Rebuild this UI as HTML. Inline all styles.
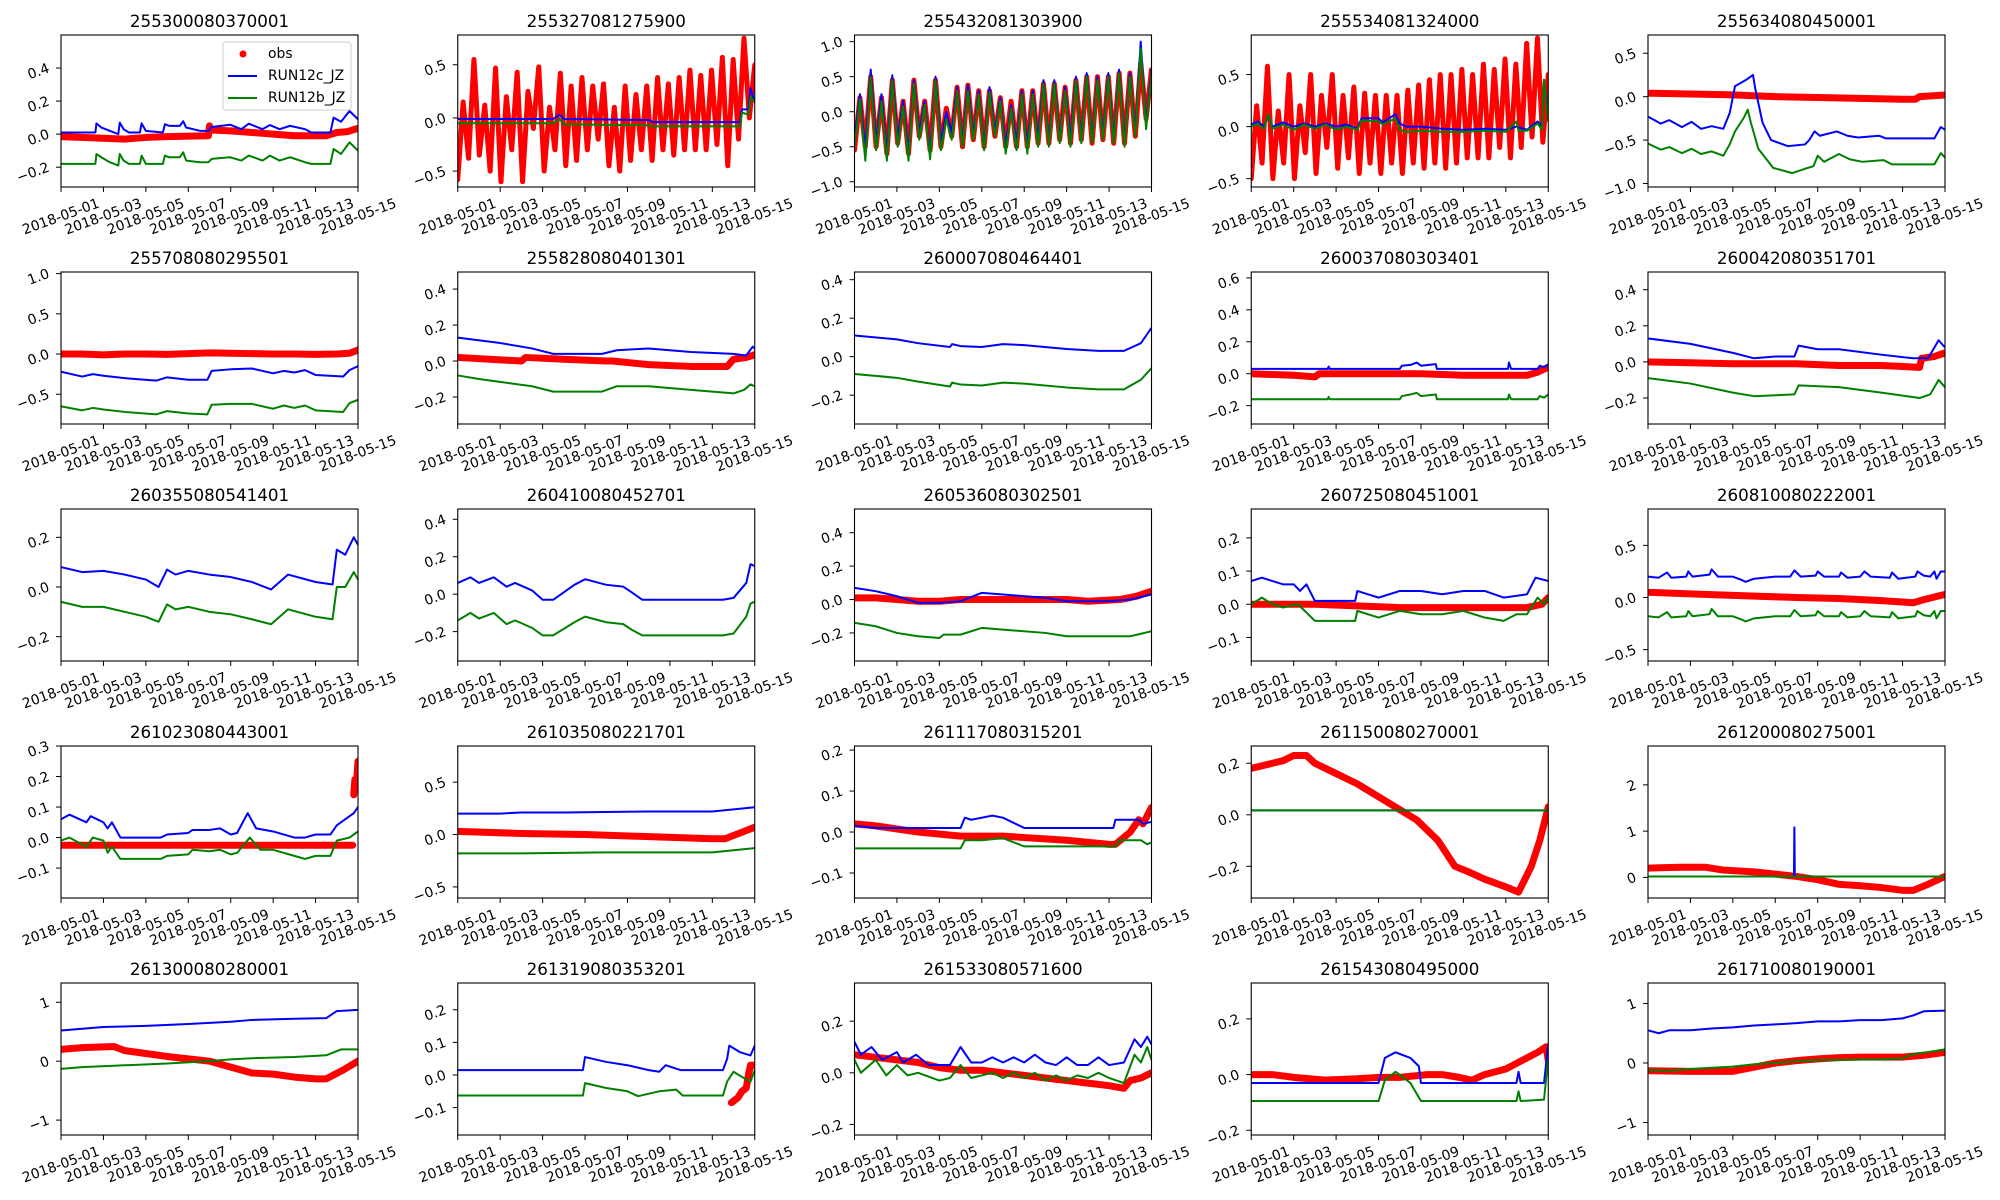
<!DOCTYPE html>
<html>
<head>
<meta charset="utf-8">
<style>
html,body{margin:0;padding:0;background:#fff;}
svg{display:block;font-family:"DejaVu Sans","Liberation Sans",sans-serif;}
</style>
</head>
<body>
<svg id="fig" width="2000" height="1200" viewBox="0 0 2000 1200" xmlns="http://www.w3.org/2000/svg"></svg>
<script>
// ---------- shared x axis ----------
const xTickDays = [0,2,4,6,8,10,12,14];
const xTickLabels = ['2018-05-01','2018-05-03','2018-05-05','2018-05-07','2018-05-09','2018-05-11','2018-05-13','2018-05-15'];

// ---------- subplot titles ----------
const titles = ['255300080370001','255327081275900','255432081303900','255534081324000','255634080450001',
'255708080295501','255828080401301','260007080464401','260037080303401','260042080351701',
'260355080541401','260410080452701','260536080302501','260725080451001','260810080222001',
'261023080443001','261035080221701','261117080315201','261150080270001','261200080275001',
'261300080280001','261319080353201','261533080571600','261543080495000','261710080190001'];

// ---------- y limits and ticks ----------
const yLims = [[-0.32,0.6],[-0.65,0.78],[-1.075,1.095],[-0.58,0.88],[-1.04,0.71],
[-0.87,1.02],[-0.35,0.495],[-0.35,0.44],[-0.315,0.637],[-0.344,0.498],
[-0.298,0.314],[-0.357,0.455],[-0.368,0.542],[-0.171,0.287],[-0.609,0.849],
[-0.198,0.3],[-0.606,0.845],[-0.161,0.21],[-0.323,0.267],[-0.446,2.84],
[-1.253,1.327],[-0.184,0.282],[-0.241,0.348],[-0.217,0.329],[-1.21,1.345]];
const yTicks = [[-0.2,0,0.2,0.4],[-0.5,0,0.5],[-1,-0.5,0,0.5,1],[-0.5,0,0.5],[-1,-0.5,0,0.5],
[-0.5,0,0.5,1],[-0.2,0,0.2,0.4],[-0.2,0,0.2,0.4],[-0.2,0,0.2,0.4,0.6],[-0.2,0,0.2,0.4],
[-0.2,0,0.2],[-0.2,0,0.2,0.4],[-0.2,0,0.2,0.4],[-0.1,0,0.1,0.2],[-0.5,0,0.5],
[-0.1,0,0.1,0.2,0.3],[-0.5,0,0.5],[-0.1,0,0.1,0.2],[-0.2,0,0.2],[0,1,2],
[-1,0,1],[-0.1,0,0.1,0.2],[-0.2,0,0.2],[-0.2,0,0.2],[-1,0,1]];
const yDecimals = [1,1,1,1,1, 1,1,1,1,1, 1,1,1,1,1, 1,1,1,1,0, 0,1,1,1,0];

// ---------- series data ([day, value] pairs, or evenly spaced values over 14 days) ----------
const obs1=[[0,-0.015],[2,-0.025],[3,-0.03],[4,-0.02],[5,-0.015],[6.95,-0.01],[7.0,0.05],[7.05,0.025],[8,0.02],[9,0.01],[10,0.0],[11,-0.01],[12.5,-0.01],[13,0.01],[13.5,0.015],[14,0.035]];
const blue1=[[0,0.01],[1.62,0.01],[1.67,0.065],[1.9,0.04],[2.3,0.02],[2.7,0.0],[2.77,0.07],[2.95,0.03],[3.2,0.01],[3.72,0.01],[3.8,0.065],[4.0,0.02],[4.8,0.01],[4.9,0.06],[5.1,0.05],[5.6,0.05],[5.76,0.078],[5.9,0.04],[6.55,0.02],[6.95,0.02],[7.1,0.043],[7.97,0.057],[8.5,0.03],[8.85,0.063],[9.5,0.03],[9.85,0.055],[10.3,0.03],[10.8,0.05],[11.5,0.03],[11.8,0.01],[12.7,0.01],[12.85,0.1],[13.2,0.075],[13.6,0.14],[14,0.09]];
const green1=[[0,-0.18],[1.62,-0.18],[1.67,-0.12],[1.9,-0.14],[2.3,-0.17],[2.7,-0.19],[2.77,-0.12],[2.95,-0.16],[3.2,-0.18],[3.72,-0.18],[3.8,-0.13],[4.0,-0.18],[4.8,-0.18],[4.9,-0.13],[5.1,-0.14],[5.6,-0.14],[5.76,-0.11],[5.9,-0.16],[6.55,-0.17],[6.95,-0.17],[7.1,-0.15],[7.97,-0.14],[8.5,-0.16],[8.85,-0.13],[9.5,-0.16],[9.85,-0.13],[10.3,-0.16],[10.8,-0.14],[11.5,-0.17],[11.8,-0.18],[12.7,-0.18],[12.85,-0.09],[13.2,-0.12],[13.6,-0.05],[14,-0.1]];

const obs2=[-0.58,0.15,-0.38,0.55,-0.35,0.12,-0.5,0.47,-0.6,0.2,-0.3,0.43,-0.6,0.25,-0.1,0.48,-0.5,0.1,-0.3,0.42,-0.45,0.3,-0.4,0.38,-0.3,0.3,-0.2,0.32,-0.45,0.1,-0.5,0.3,-0.4,0.22,-0.3,0.3,-0.4,0.38,-0.3,0.32,-0.35,0.38,-0.3,0.45,-0.3,0.4,-0.3,0.45,-0.25,0.57,-0.45,0.55,-0.2,0.75,0.0,0.5];
const blue2=[[0,-0.01],[4.5,-0.01],[4.8,0.03],[5,-0.01],[9,-0.02],[9.2,-0.04],[13.3,-0.04],[13.4,0.08],[13.7,0.08],[13.8,0.28],[14,0.15]];
const green2=[[0,-0.05],[4.5,-0.05],[4.8,-0.01],[5,-0.06],[9,-0.07],[9.2,-0.08],[13.3,-0.08],[13.4,0.05],[13.7,0.03],[13.8,0.2],[14,0.15]];

const obs3=[-0.55,0.2,-0.5,0.5,-0.5,0.2,-0.6,0.45,-0.45,0.15,-0.6,0.45,-0.35,0.15,-0.55,0.45,-0.5,0.05,-0.35,0.35,-0.5,0.38,-0.4,0.3,-0.5,0.3,-0.35,0.2,-0.5,0.15,-0.5,0.3,-0.5,0.3,-0.45,0.4,-0.45,0.4,-0.4,0.35,-0.45,0.45,-0.4,0.5,-0.45,0.5,-0.4,0.5,-0.45,0.55,-0.45,0.55,-0.35,0.7,-0.1,0.6];
const blue3=[-0.4,0.25,-0.55,0.6,-0.45,0.25,-0.6,0.52,-0.4,0.15,-0.6,0.45,-0.3,0.15,-0.6,0.5,-0.45,0.0,-0.3,0.35,-0.45,0.38,-0.35,0.3,-0.5,0.35,-0.3,0.2,-0.5,0.1,-0.45,0.3,-0.5,0.3,-0.4,0.45,-0.45,0.45,-0.4,0.35,-0.4,0.5,-0.4,0.55,-0.4,0.5,-0.35,0.55,-0.4,0.6,-0.45,0.55,-0.3,1.0,-0.2,0.6];
const green3=[-0.5,0.18,-0.7,0.5,-0.55,0.15,-0.7,0.45,-0.5,0.08,-0.7,0.4,-0.4,0.1,-0.68,0.45,-0.55,-0.1,-0.4,0.3,-0.5,0.3,-0.4,0.25,-0.55,0.28,-0.35,0.15,-0.6,0.05,-0.55,0.25,-0.6,0.25,-0.5,0.4,-0.5,0.4,-0.45,0.3,-0.5,0.45,-0.45,0.5,-0.45,0.45,-0.4,0.5,-0.45,0.55,-0.5,0.5,-0.35,0.9,-0.25,0.55];

const obs4=[-0.5,0.2,-0.35,0.58,-0.5,0.15,-0.35,0.5,-0.5,0.2,-0.25,0.5,-0.45,0.3,-0.2,0.5,-0.4,0.3,-0.3,0.38,-0.45,0.32,-0.35,0.3,-0.45,0.3,-0.35,0.3,-0.45,0.35,-0.35,0.4,-0.4,0.45,-0.35,0.5,-0.4,0.5,-0.35,0.55,-0.3,0.5,-0.3,0.6,-0.3,0.55,-0.2,0.65,-0.3,0.6,-0.2,0.8,-0.1,0.85,-0.15,0.5];
const blue4=[[0,0.02],[0.3,0.05],[0.6,0.0],[0.8,0.1],[1,0.0],[1.5,0.04],[2,0.0],[2.5,0.03],[3,0.0],[3.5,0.03],[4,0.0],[4.5,0.02],[5,-0.02],[5.2,0.08],[6,0.08],[6.2,0.04],[6.8,0.12],[7,0.03],[7.3,0.0],[8,0.0],[9,-0.02],[10,-0.03],[11,-0.02],[12,-0.03],[12.5,0.0],[13,-0.03],[13.5,0.05],[13.7,0.0],[13.8,0.45],[14,0.1]];
const green4=[[0,0.0],[0.3,0.03],[0.6,-0.02],[0.8,0.12],[1,-0.02],[1.5,0.02],[2,-0.03],[2.5,0.02],[3,-0.02],[3.5,0.02],[4,-0.03],[4.5,0.0],[5,-0.03],[5.2,0.06],[6,0.05],[6.2,0.02],[6.8,0.08],[7,-0.03],[7.3,-0.05],[8,-0.04],[9,-0.05],[10,-0.05],[11,-0.04],[12,-0.05],[12.5,0.05],[12.6,-0.04],[13,-0.04],[13.5,0.03],[13.7,-0.03],[13.8,0.45],[14,0.05]];

const obs5=[[0,0.04],[2,0.03],[4,0.02],[6,0.0],[8,-0.01],[10,-0.02],[12,-0.03],[12.6,-0.03],[12.8,0.0],[14,0.02]];
const blue5=[[0,-0.23],[0.6,-0.31],[1,-0.27],[1.6,-0.35],[2.05,-0.29],[2.5,-0.37],[3.0,-0.34],[3.55,-0.37],[3.85,-0.19],[4.1,0.12],[4.6,0.19],[4.95,0.25],[5.05,0.1],[5.4,-0.3],[5.8,-0.5],[6.6,-0.57],[7.4,-0.55],[7.6,-0.5],[7.85,-0.4],[8.1,-0.45],[8.9,-0.4],[9.4,-0.45],[9.9,-0.47],[10.9,-0.45],[11.2,-0.48],[13.5,-0.48],[13.8,-0.35],[14,-0.38]];
const green5=[[0,-0.54],[0.6,-0.61],[1,-0.58],[1.6,-0.65],[2.05,-0.6],[2.5,-0.66],[3.0,-0.63],[3.55,-0.68],[3.85,-0.55],[4.1,-0.4],[4.5,-0.25],[4.7,-0.15],[4.85,-0.3],[5.2,-0.6],[5.9,-0.82],[6.8,-0.88],[7.4,-0.83],[7.8,-0.8],[8.0,-0.68],[8.3,-0.75],[9.0,-0.66],[9.5,-0.72],[10.1,-0.75],[11.1,-0.73],[11.5,-0.78],[13.5,-0.78],[13.8,-0.65],[14,-0.7]];

const obs6=[[0,0.0],[1,0.0],[2,-0.01],[3,0.0],[4,0.0],[5,-0.005],[6,0.005],[7,0.015],[8,0.01],[9,0.005],[10,0.0],[11,0.0],[12,-0.005],[13,0.0],[13.6,0.01],[14,0.05]];
const blue6=[[0,-0.22],[1,-0.28],[1.5,-0.25],[2,-0.27],[3,-0.3],[4.5,-0.33],[5,-0.29],[6,-0.32],[6.9,-0.32],[7.1,-0.21],[8,-0.19],[9,-0.18],[10,-0.24],[10.5,-0.21],[11,-0.23],[11.5,-0.2],[12,-0.26],[13.3,-0.28],[13.6,-0.2],[14,-0.15]];
const green6=[[0,-0.65],[1,-0.7],[1.5,-0.67],[2,-0.69],[3,-0.72],[4.5,-0.75],[5,-0.71],[6,-0.74],[6.9,-0.75],[7.1,-0.63],[8,-0.62],[9,-0.62],[10,-0.68],[10.5,-0.64],[11,-0.67],[11.5,-0.64],[12,-0.7],[13.3,-0.72],[13.6,-0.61],[14,-0.57]];

const obs7=[[0,0.02],[1.5,0.01],[3,0.0],[3.2,0.02],[5,0.01],[7,0.0],[7.3,0.0],[9,-0.02],[11,-0.03],[12.7,-0.03],[13,0.01],[13.6,0.02],[14,0.035]];
const blue7=[[0,0.13],[2,0.1],[3.5,0.07],[4.5,0.04],[6.8,0.04],[7.5,0.06],[9,0.07],[11,0.05],[13,0.04],[13.6,0.03],[13.9,0.08],[14,0.07]];
const green7=[[0,-0.08],[1,-0.1],[3.5,-0.14],[4.5,-0.17],[6.8,-0.17],[7.5,-0.14],[9,-0.14],[11,-0.16],[13,-0.18],[13.5,-0.16],[13.8,-0.13],[14,-0.14]];

const obs8=[];
const blue8=[[0,0.11],[2,0.09],[3,0.07],[4.5,0.05],[4.6,0.065],[5,0.055],[6,0.05],[7,0.065],[8,0.06],[10,0.04],[11.5,0.03],[12.7,0.03],[13.5,0.07],[14,0.15]];
const green8=[[0,-0.09],[2,-0.11],[3,-0.13],[4.5,-0.155],[4.6,-0.135],[5,-0.145],[6,-0.15],[7,-0.135],[8,-0.14],[10,-0.16],[11.5,-0.17],[12.7,-0.17],[13.5,-0.12],[14,-0.06]];

const obs9=[[0,0.0],[2,-0.01],[3,-0.02],[3.2,0.0],[5,0.0],[8,0.0],[10,-0.01],[13,-0.01],[13.5,0.01],[14,0.04]];
const blue9=[[0,0.03],[3.6,0.03],[3.65,0.045],[3.7,0.03],[7,0.03],[7.1,0.05],[7.5,0.055],[7.8,0.07],[8.0,0.05],[8.7,0.06],[8.75,0.03],[12.1,0.03],[12.15,0.07],[12.25,0.03],[13.5,0.03],[13.6,0.05],[13.8,0.04],[14,0.06]];
const green9=[[0,-0.16],[3.6,-0.16],[3.65,-0.145],[3.7,-0.16],[7,-0.16],[7.1,-0.14],[7.5,-0.13],[7.8,-0.12],[8.0,-0.14],[8.7,-0.13],[8.75,-0.16],[12.1,-0.16],[12.15,-0.13],[12.25,-0.16],[13.5,-0.16],[13.6,-0.14],[13.8,-0.15],[14,-0.13]];

const obs10=[[0,0.0],[2,-0.005],[4,-0.01],[7,-0.01],[9,-0.02],[11,-0.02],[12.8,-0.03],[12.9,0.02],[13.5,0.03],[14,0.05]];
const blue10=[[0,0.13],[2,0.1],[4,0.05],[5,0.02],[6,0.03],[6.9,0.03],[7.1,0.09],[8,0.07],[9,0.07],[11,0.04],[12.5,0.02],[13.2,0.02],[13.7,0.12],[14,0.08]];
const green10=[[0,-0.09],[2,-0.12],[4,-0.17],[5,-0.19],[6.9,-0.18],[7.1,-0.13],[9,-0.14],[11,-0.17],[12.8,-0.2],[13.3,-0.18],[13.7,-0.1],[14,-0.14]];

const obs11=[];
const blue11=[[0,0.08],[1,0.06],[2,0.065],[3,0.05],[4,0.03],[4.6,0.0],[5,0.07],[5.4,0.05],[6,0.065],[7,0.05],[8,0.04],[9,0.02],[9.9,-0.01],[10.7,0.05],[12,0.02],[12.8,0.01],[13,0.15],[13.4,0.13],[13.8,0.2],[14,0.17]];
const green11=[[0,-0.06],[1,-0.08],[2,-0.08],[3,-0.1],[4,-0.12],[4.6,-0.14],[5,-0.07],[5.4,-0.09],[6,-0.08],[7,-0.1],[8,-0.11],[9,-0.13],[9.9,-0.15],[10.7,-0.09],[12,-0.12],[12.8,-0.13],[13,0.0],[13.4,0.0],[13.8,0.06],[14,0.03]];

const obs12=[];
const blue12=[[0,0.06],[0.6,0.09],[1,0.06],[1.7,0.09],[2.3,0.04],[2.7,0.06],[3.5,0.02],[4,-0.03],[4.5,-0.03],[5.5,0.05],[6,0.08],[7,0.05],[7.8,0.04],[8.2,0.01],[8.7,-0.03],[12.5,-0.03],[13,-0.02],[13.6,0.06],[13.8,0.16],[14,0.15]];
const green12=[[0,-0.14],[0.6,-0.1],[1,-0.13],[1.7,-0.1],[2.3,-0.16],[2.7,-0.14],[3.5,-0.18],[4,-0.22],[4.5,-0.22],[5.5,-0.15],[6,-0.12],[7,-0.15],[7.8,-0.16],[8.2,-0.19],[8.7,-0.22],[12.5,-0.22],[13,-0.21],[13.6,-0.12],[13.8,-0.05],[14,-0.04]];

const obs13=[[0,0.01],[1,0.01],[2,0.0],[3,-0.01],[4,-0.01],[5,0.0],[7,0.0],[9,0.0],[10,0.0],[11,-0.01],[12.5,0.0],[13.3,0.02],[14,0.05]];
const blue13=[[0,0.07],[1,0.05],[2,0.02],[3,-0.02],[4,-0.02],[5,-0.01],[6,0.04],[7,0.03],[9,0.01],[10,-0.01],[12,-0.01],[13,0.0],[14,0.03]];
const green13=[[0,-0.14],[1,-0.16],[2,-0.2],[3,-0.22],[4,-0.23],[4.2,-0.21],[5,-0.21],[6,-0.17],[7,-0.18],[9,-0.2],[10,-0.22],[12,-0.22],[13,-0.22],[14,-0.19]];

const obs14=[[0,0.0],[3,0.0],[7,-0.01],[13,-0.01],[13.7,0.0],[14,0.02]];
const blue14=[[0,0.07],[0.5,0.08],[1,0.07],[1.5,0.06],[2,0.06],[2.3,0.04],[2.6,0.06],[3,0.01],[4.9,0.01],[5,0.04],[5.5,0.03],[6,0.02],[7,0.04],[8,0.04],[9,0.03],[10,0.04],[11,0.04],[11.9,0.02],[13,0.03],[13.4,0.08],[14,0.07]];
const green14=[[0,0.0],[0.5,0.02],[1,0.0],[1.5,-0.01],[2.2,0.0],[3,-0.05],[4.9,-0.05],[5,-0.02],[6,-0.04],[7,-0.02],[8,-0.03],[9,-0.03],[10,-0.02],[11,-0.04],[11.9,-0.05],[12.5,-0.03],[13,-0.03],[13.5,0.02],[13.8,0.0],[14,0.02]];

const obs15=[[0,0.05],[2,0.035],[4,0.02],[7,0.0],[9,-0.01],[11,-0.03],[12.5,-0.05],[13,-0.02],[14,0.03]];
const blue15=[[0,0.2],[0.5,0.19],[0.9,0.24],[1.1,0.19],[1.8,0.2],[1.9,0.25],[2.1,0.2],[2.9,0.22],[3.0,0.27],[3.3,0.2],[4.0,0.2],[4.4,0.17],[4.6,0.15],[5,0.18],[6,0.2],[6.7,0.2],[6.9,0.26],[7.2,0.2],[7.9,0.21],[8.0,0.25],[8.3,0.2],[9.0,0.2],[9.1,0.24],[9.4,0.19],[10,0.2],[10.2,0.25],[10.5,0.2],[11.4,0.19],[11.5,0.24],[11.8,0.18],[12.6,0.2],[12.7,0.25],[13.0,0.21],[13.3,0.2],[13.5,0.25],[13.6,0.18],[13.8,0.25],[14,0.25]];
const green15=[[0,-0.18],[0.5,-0.19],[0.9,-0.14],[1.1,-0.19],[1.8,-0.18],[1.9,-0.13],[2.1,-0.18],[2.9,-0.16],[3.0,-0.11],[3.3,-0.18],[4.0,-0.18],[4.4,-0.21],[4.6,-0.23],[5,-0.2],[6,-0.18],[6.7,-0.18],[6.9,-0.12],[7.2,-0.18],[7.9,-0.17],[8.0,-0.13],[8.3,-0.18],[9.0,-0.18],[9.1,-0.14],[9.4,-0.19],[10,-0.18],[10.2,-0.13],[10.5,-0.18],[11.4,-0.19],[11.5,-0.14],[11.8,-0.2],[12.6,-0.18],[12.7,-0.13],[13.0,-0.17],[13.3,-0.18],[13.5,-0.13],[13.6,-0.2],[13.8,-0.13],[14,-0.13]];

const obs16=[[0,-0.025],[13.75,-0.025],[13.75,null],[13.8,0.14],[13.85,0.19],[13.9,0.16],[13.95,0.2],[14,0.25]];
const blue16=[[0,0.06],[0.4,0.075],[1.2,0.05],[1.4,0.07],[2,0.05],[2.2,0.03],[2.4,0.05],[2.8,0.0],[4.7,0.0],[5,0.01],[6,0.015],[6.2,0.025],[7,0.025],[7.5,0.03],[8,0.01],[8.3,0.015],[8.8,0.08],[9.2,0.03],[10,0.02],[11,0.0],[11.5,0.0],[12,0.01],[12.7,0.01],[13,0.04],[13.6,0.07],[13.8,0.08],[14,0.1]];
const green16=[[0,-0.01],[0.4,0.0],[1.2,-0.03],[1.5,0.0],[2,-0.01],[2.2,-0.05],[2.4,-0.03],[2.8,-0.07],[4.7,-0.07],[5,-0.06],[6,-0.055],[6.2,-0.04],[7,-0.045],[7.5,-0.04],[8,-0.055],[8.3,-0.05],[8.9,0.0],[9.4,-0.04],[10,-0.04],[11,-0.06],[11.5,-0.07],[12,-0.06],[12.7,-0.06],[13,-0.01],[13.6,0.0],[14,0.02]];

const obs17=[[0,0.03],[3,0.01],[6,0.0],[9,-0.02],[12,-0.04],[12.6,-0.04],[13.5,0.03],[14,0.07]];
const blue17=[[0,0.2],[2,0.2],[3,0.21],[5,0.21],[9,0.22],[12,0.22],[14,0.26]];
const green17=[[0,-0.18],[2,-0.18],[3,-0.18],[7,-0.17],[12,-0.17],[14,-0.13]];

const obs18=[[0,0.02],[1,0.015],[3,0.0],[5,-0.01],[7,-0.01],[10,-0.02],[12,-0.03],[12.3,-0.03],[13,0.0],[13.4,0.03],[13.6,0.02],[14,0.06]];
const blue18=[[0,0.015],[1,0.01],[5,0.01],[5.2,0.035],[5.5,0.03],[6,0.035],[6.5,0.04],[7,0.035],[8,0.01],[12.2,0.01],[12.3,0.03],[13.4,0.03],[13.6,0.02],[14,0.025]];
const green18=[[0,-0.04],[5,-0.04],[5.2,-0.02],[6,-0.02],[7,-0.015],[8,-0.035],[12.3,-0.035],[12.5,-0.02],[13.5,-0.02],[13.8,-0.03],[14,-0.025]];

const obs19=[[0,0.18],[1,0.2],[1.5,0.21],[2,0.23],[2.6,0.23],[3,0.2],[4,0.16],[5,0.12],[6,0.07],[7,0.02],[7.8,-0.02],[8.8,-0.1],[9.6,-0.2],[10.2,-0.22],[11,-0.25],[12,-0.28],[12.6,-0.3],[13.2,-0.2],[13.6,-0.1],[14,0.03]];
const blue19=[[0,0.017],[14,0.017]];
const green19=[[0,0.017],[14,0.017]];

const obs20=[[0,0.2],[1.5,0.22],[2.7,0.22],[3.5,0.16],[5,0.12],[6,0.07],[7,0.02],[8,-0.05],[9,-0.15],[10,-0.18],[11,-0.22],[12,-0.28],[12.5,-0.28],[13.2,-0.15],[14,0.02]];
const blue20=[[0,0.02],[6.88,0.02],[6.9,1.08],[6.92,0.02],[14,0.02]];
const green20=[[0,0.02],[14,0.02]];

const obs21=[[0,0.2],[1,0.23],[2.5,0.25],[3,0.18],[4,0.13],[5,0.08],[7,0.0],[8,-0.1],[9,-0.2],[10,-0.22],[11,-0.27],[12,-0.3],[12.5,-0.3],[13.3,-0.15],[14,0.0]];
const blue21=[[0,0.52],[1,0.55],[2,0.58],[4,0.6],[6,0.63],[8,0.67],[9,0.7],[11,0.72],[12.5,0.73],[13,0.85],[14,0.87]];
const green21=[[0,-0.13],[1,-0.1],[3,-0.07],[5,-0.04],[7,0.0],[8,0.03],[9,0.05],[11,0.07],[12.5,0.1],[13.2,0.2],[14,0.2]];

const obs22=[[12.9,-0.085],[13.2,-0.07],[13.4,-0.05],[13.6,-0.04],[13.7,0.0],[13.8,0.03],[14,0.03]];
const blue22=[[0,0.015],[5.9,0.015],[6,0.055],[7,0.04],[8,0.03],[9,0.015],[9.5,0.01],[9.8,0.03],[10.5,0.015],[12.5,0.015],[12.7,0.05],[12.8,0.09],[13.3,0.07],[13.8,0.06],[14,0.09]];
const green22=[[0,-0.063],[5.9,-0.063],[6,-0.025],[7,-0.04],[8,-0.05],[8.5,-0.065],[9.5,-0.05],[10.3,-0.045],[10.6,-0.063],[12.5,-0.063],[12.7,-0.02],[13,0.01],[13.5,-0.01],[13.8,-0.02],[14,0.015]];

const obs23=[[0,0.07],[1,0.06],[2,0.05],[3,0.04],[4,0.02],[5,0.01],[6,0.01],[7,0.0],[8,-0.01],[9,-0.02],[10,-0.03],[11,-0.04],[12,-0.05],[12.7,-0.06],[13,-0.03],[13.5,-0.02],[14,0.0]];
const blue23=[[0,0.12],[0.3,0.07],[0.8,0.1],[1.3,0.05],[2,0.08],[2.3,0.04],[2.9,0.07],[3.5,0.03],[4.5,0.03],[5.0,0.1],[5.5,0.04],[6,0.04],[6.5,0.06],[7,0.04],[7.5,0.06],[8,0.04],[8.5,0.07],[9,0.04],[9.5,0.03],[10,0.06],[10.5,0.03],[11,0.03],[11.5,0.06],[12,0.03],[12.7,0.04],[13.2,0.13],[13.5,0.1],[13.8,0.14],[14,0.11]];
const green23=[[0,0.05],[0.3,0.0],[1,0.05],[1.5,-0.01],[2,0.03],[2.5,-0.01],[3,0.0],[4,-0.03],[4.5,-0.02],[5,0.03],[5.5,-0.02],[6,-0.01],[6.5,0.0],[7,-0.02],[7.5,0.0],[8,-0.02],[8.5,0.0],[9,-0.03],[9.5,-0.01],[10,-0.03],[10.5,-0.01],[11,-0.02],[11.5,0.0],[12,-0.02],[12.7,-0.04],[13.2,0.07],[13.5,0.04],[13.8,0.1],[14,0.05]];

const obs24=[[0,0.0],[1,0.0],[2,-0.01],[3.5,-0.02],[5,-0.015],[6,-0.01],[7,-0.01],[8.3,0.0],[9,0.0],[9.8,-0.01],[10.4,-0.02],[11,0.0],[12,0.02],[12.5,0.04],[13,0.06],[13.5,0.08],[13.9,0.1],[14,0.05]];
const blue24=[[0,-0.03],[6,-0.03],[6.3,0.06],[6.8,0.08],[7.5,0.06],[7.9,0.03],[8,-0.03],[12.5,-0.03],[12.6,0.01],[12.7,-0.03],[13.8,-0.03],[14,0.11]];
const green24=[[0,-0.095],[6,-0.095],[6.3,-0.02],[6.8,0.01],[7.5,-0.03],[8,-0.095],[12.5,-0.095],[12.6,-0.06],[12.7,-0.095],[13.8,-0.09],[14,0.06]];

const obs25=[[0,-0.13],[2,-0.14],[4,-0.14],[5,-0.07],[6,0.0],[7,0.04],[8,0.07],[9,0.09],[10,0.1],[11,0.1],[12,0.1],[13,0.13],[14,0.18]];
const blue25=[[0,0.55],[0.5,0.5],[1,0.55],[2,0.55],[3,0.58],[4,0.6],[5,0.63],[6,0.65],[7,0.67],[8,0.7],[9,0.7],[10,0.72],[11,0.72],[12,0.75],[12.5,0.8],[13,0.87],[14,0.88]];
const green25=[[0,-0.12],[1,-0.13],[2,-0.1],[3,-0.08],[4,-0.06],[5,-0.02],[6,0.0],[7,0.03],[8,0.05],[9,0.05],[10,0.06],[11,0.06],[12,0.08],[12.5,0.15],[13.5,0.2],[14,0.23]];

const obsSeries=[obs1,obs2,obs3,obs4,obs5,obs6,obs7,obs8,obs9,obs10,obs11,obs12,obs13,obs14,obs15,obs16,obs17,obs18,obs19,obs20,obs21,obs22,obs23,obs24,obs25];
const blueSeries=[blue1,blue2,blue3,blue4,blue5,blue6,blue7,blue8,blue9,blue10,blue11,blue12,blue13,blue14,blue15,blue16,blue17,blue18,blue19,blue20,blue21,blue22,blue23,blue24,blue25];
const greenSeries=[green1,green2,green3,green4,green5,green6,green7,green8,green9,green10,green11,green12,green13,green14,green15,green16,green17,green18,green19,green20,green21,green22,green23,green24,green25];
const tidalPlots=[1,2,3];

// ---------- rendering ----------
const NS='http://www.w3.org/2000/svg';
const fig=document.getElementById('fig');
function mk(tag, attrs, parent){
  const e=document.createElementNS(NS,tag);
  for(const k in attrs) e.setAttribute(k, attrs[k]);
  parent.appendChild(e);
  return e;
}
function toPairs(arr){
  if(arr.length && typeof arr[0]==='number'){
    return arr.map((v,i)=>[i*14/(arr.length-1), v]);
  }
  return arr;
}
function fmt(v,d){
  let s=Math.abs(v).toFixed(d);
  if(v<0 && Math.abs(v)>1e-9) s='\u2212'+s;
  return s;
}
const AX_W=297, AX_H=152;
const defs=mk('defs',{},fig);

for(let i=0;i<25;i++){
  const r=Math.floor(i/5), c=i%5;
  const L=61+c*396.75, T=35+r*237, R=L+AX_W, B=T+AX_H;
  const lim=yLims[i];
  const xs=d=>L+d/14*AX_W;
  const ys=v=>B-(v-lim[0])/(lim[1]-lim[0])*AX_H;

  const g=mk('g',{},fig);
  
  

  const cp=mk('clipPath',{id:'clip'+i},defs);
  mk('rect',{x:L,y:T,width:AX_W,height:AX_H},cp);

  const title=mk('text',{x:L+AX_W/2,y:T-8,'text-anchor':'middle','font-size':'16.7',fill:'#000'},g);
  title.textContent=titles[i];
  
  

  const plotG=mk('g',{'clip-path':'url(#clip'+i+')'},g);
  
  

  const series=[
    {data:obsSeries[i],color:'#ff0000',w:tidalPlots.includes(i)?5:7,name:'obs-series'},
    {data:blueSeries[i],color:'#0000ff',w:2,name:'run12c-jz-line'},
    {data:greenSeries[i],color:'#008000',w:2,name:'run12b-jz-line'}
  ];
  series.forEach(s=>{
    const p=toPairs(s.data);
    if(!p.length) return;
    let d='', pen=false;
    p.forEach(pt=>{
      if(pt[1]===null){pen=false;return;}
      d+=(pen?'L':'M')+xs(pt[0]).toFixed(2)+','+ys(pt[1]).toFixed(2);
      pen=true;
    });
    const path=mk('path',{d:d,fill:'none',stroke:s.color,'stroke-width':s.w,'stroke-linejoin':'round','stroke-linecap':'round'},plotG);
    
    
  });

  const frame=mk('rect',{x:L,y:T,width:AX_W,height:AX_H,fill:'none',stroke:'#000','stroke-width':1.1},g);
  
  

  // x ticks
  xTickDays.forEach((dv,k)=>{
    const x=xs(dv);
    const tk=mk('line',{x1:x,y1:B,x2:x,y2:B+5,stroke:'#000','stroke-width':1},g);
    
    
    const cy=B+30;
    const tl=mk('text',{x:x,y:cy,'text-anchor':'middle','dominant-baseline':'central','font-size':'13.9',fill:'#000',transform:'rotate(-20 '+x+' '+cy+')'},g);
    tl.textContent=xTickLabels[k];
    
    
  });
  // y ticks
  yTicks[i].forEach(v=>{
    const y=ys(v);
    const tk=mk('line',{x1:L-5,y1:y,x2:L,y2:y,stroke:'#000','stroke-width':1},g);
    
    
    const ax=L-12;
    const tl=mk('text',{x:ax,y:y,'text-anchor':'end','dominant-baseline':'central','font-size':'13.9',fill:'#000',transform:'rotate(-20 '+ax+' '+y+')'},g);
    tl.textContent=fmt(v,yDecimals[i]);
    
    
  });
}

// legend in first subplot
const lg=mk('g',{},fig);


mk('rect',{x:223,y:42,width:128,height:68,rx:3,fill:'#fff','fill-opacity':0.8,stroke:'#cccccc','stroke-width':1},lg);
const legItems=[{label:'obs',color:'#ff0000',type:'dot',y:54},{label:'RUN12c_JZ',color:'#0000ff',type:'line',y:76},{label:'RUN12b_JZ',color:'#008000',type:'line',y:98}];
legItems.forEach(it=>{
  const eg=mk('g',{},lg);
  
  
  if(it.type==='dot') mk('circle',{cx:243,cy:it.y,r:3.5,fill:it.color},eg);
  else mk('line',{x1:228,y1:it.y,x2:257,y2:it.y,stroke:it.color,'stroke-width':2},eg);
  const t=mk('text',{x:268,y:it.y,'dominant-baseline':'central','font-size':'13.9',fill:'#000'},eg);
  t.textContent=it.label;
});
</script>
</body>
</html>
